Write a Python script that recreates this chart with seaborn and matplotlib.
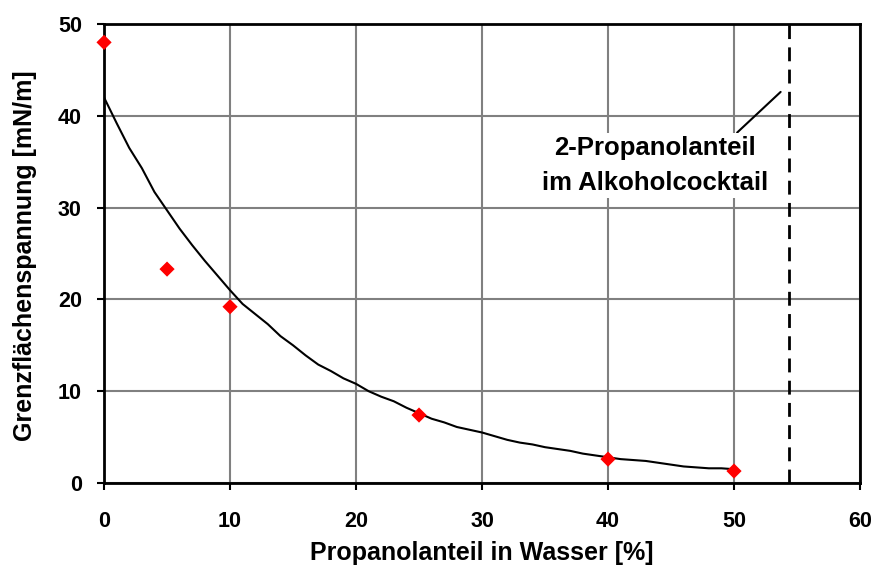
import matplotlib
matplotlib.use("Agg")
import matplotlib.pyplot as plt
import seaborn as sns
import pandas as pd

# measured points
meas_x = [0, 5, 10, 25, 40, 50]
meas_y = [48.0, 23.3, 19.2, 7.4, 2.6, 1.3]

# fitted curve
fit_x = list(range(0, 51))
fit_y = [42.0, 39.2, 36.5, 34.3, 31.7, 29.7, 27.7, 25.9, 24.2, 22.6,
         21.0, 19.5, 18.4, 17.3, 16.0, 15.0, 13.9, 12.9, 12.2, 11.4,
         10.8, 10.0, 9.4, 8.9, 8.2, 7.6, 7.0, 6.6, 6.1, 5.8,
         5.5, 5.1, 4.7, 4.4, 4.2, 3.9, 3.7, 3.5, 3.2, 3.0,
         2.8, 2.6, 2.5, 2.4, 2.2, 2.0, 1.8, 1.7, 1.6, 1.6, 1.5]

cocktail_x = 54.4
note_text = "2-Propanolanteil\nim Alkoholcocktail"
x_ticks = [0, 10, 20, 30, 40, 50, 60]
y_ticks = [0, 10, 20, 30, 40, 50]
x_label = "Propanolanteil in Wasser [%]"
y_label = "Grenzflächenspannung [mN/m]"

sns.set_theme(style="white")
plt.rcParams['font.family'] = ['Liberation Sans', 'DejaVu Sans']
plt.rcParams['text.color'] = 'black'
plt.rcParams['axes.labelcolor'] = 'black'
plt.rcParams['xtick.color'] = 'black'
plt.rcParams['ytick.color'] = 'black'

fig = plt.figure(figsize=(8.78, 5.81), dpi=100)
ax = fig.add_axes([0.1185, 0.1687, 0.8610, 0.7900])

df_fit = pd.DataFrame({"x": fit_x, "y": fit_y})
df_meas = pd.DataFrame({"x": meas_x, "y": meas_y})

sns.lineplot(data=df_fit, x="x", y="y", ax=ax, color="black", linewidth=1.5, zorder=3)
sns.scatterplot(data=df_meas, x="x", y="y", ax=ax, marker="D", color="#ff0000",
                s=60, edgecolor="none", zorder=4, clip_on=False)

ax.axvline(cocktail_x, color="black", linestyle=(0, (5, 3)), linewidth=2, zorder=3)

ax.set_xlim(0, 60)
ax.set_ylim(0, 50)
ax.set_xticks(x_ticks)
ax.set_yticks(y_ticks)
ax.grid(True, color="#808080", linewidth=1.5)
ax.set_axisbelow(True)
for s in ax.spines.values():
    s.set_color("black")
    s.set_linewidth(2)

ax.tick_params(axis="both", direction="out", length=5, width=1.5, color="black",
               labelsize=15.5, bottom=True, left=True, labelcolor="black")
ax.tick_params(axis="x", pad=15)
ax.tick_params(axis="y", pad=11)
for lbl in ax.get_xticklabels() + ax.get_yticklabels():
    lbl.set_fontweight("bold")

ax.set_xlabel(x_label, fontsize=18, fontweight="bold", color="black")
ax.set_ylabel(y_label, fontsize=18, fontweight="bold", color="black")
ax.xaxis.set_label_coords(0.5, -0.126)
ax.yaxis.set_label_coords(-0.089, 0.495)

ax.annotate(note_text, xy=(53.7, 42.6), xytext=(43.7, 34.6),
            ha="center", va="center", fontsize=18.5, fontweight="bold",
            linespacing=1.6, color="black",
            bbox=dict(boxstyle="square,pad=0.12", fc="white", ec="none"),
            arrowprops=dict(arrowstyle="-", color="black", lw=1.5,
                            shrinkA=0, shrinkB=0, relpos=(0.85, 1.0)),
            zorder=5)

fig.savefig("out.png", dpi=100)
